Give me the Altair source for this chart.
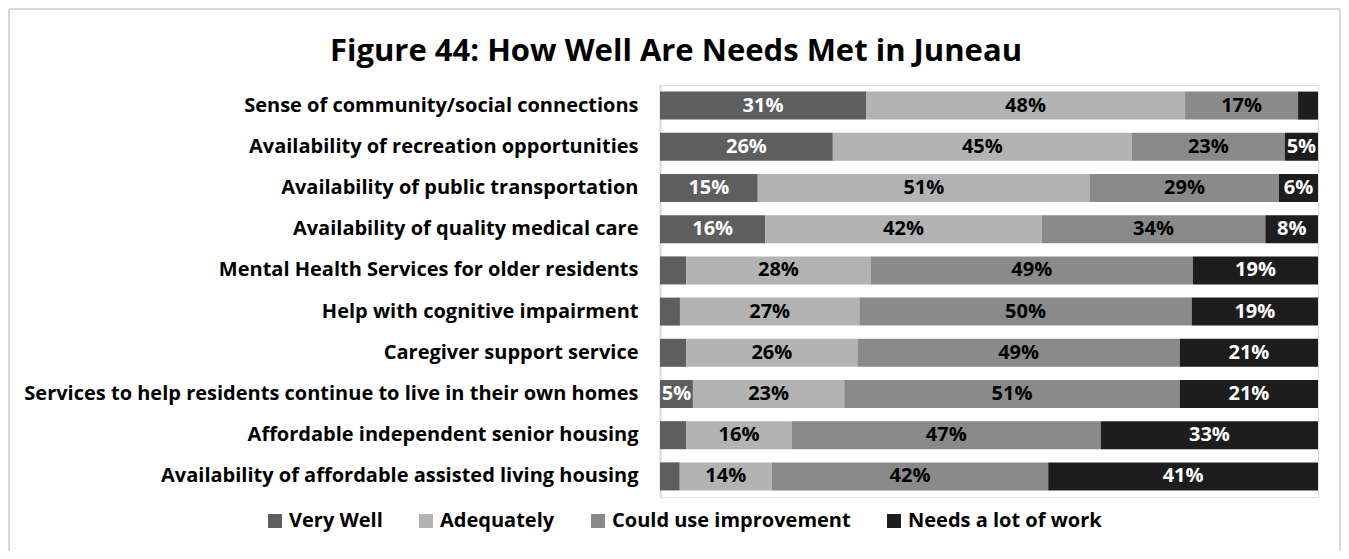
import altair as alt
import pandas as pd

categories = [
    "Sense of community/social connections",
    "Availability of recreation opportunities",
    "Availability of public transportation",
    "Availability of quality medical care",
    "Mental Health Services for older residents",
    "Help with cognitive impairment",
    "Caregiver support service",
    "Services to help residents continue to live in their own homes",
    "Affordable independent senior housing",
    "Availability of affordable assisted living housing",
]
very_well = [31, 26, 15, 16, 4, 3, 4, 5, 4, 3]
adequately = [48, 45, 51, 42, 28, 27, 26, 23, 16, 14]
could_improve = [17, 23, 29, 34, 49, 50, 49, 51, 47, 42]
needs_work = [3, 5, 6, 8, 19, 19, 21, 21, 33, 41]

series = ["Very Well", "Adequately", "Could use improvement", "Needs a lot of work"]
colors = ["#5e5e5e", "#b3b3b3", "#8a8a8a", "#1d1d1d"]
label_colors = ["white", "black", "black", "white"]
title_text = "Figure 44: How Well Are Needs Met in Juneau"

rows = []
for i, cat in enumerate(categories):
    for j, vals in enumerate([very_well, adequately, could_improve, needs_work]):
        v = vals[i]
        rows.append({
            "category": cat,
            "series": series[j],
            "value": v,
            "order": j,
            "label": f"{v}%" if v >= 5 else "",
            "labelColor": label_colors[j],
        })
df = pd.DataFrame(rows)

FONT = "Open Sans"

base = alt.Chart(df)

ycat = alt.Y(
    "category:N",
    sort=categories,
    scale=alt.Scale(paddingInner=0.32, paddingOuter=0.16),
    axis=alt.Axis(
        title=None,
        labelFont=FONT,
        labelFontSize=20,
        labelFontWeight="bold",
        labelColor="black",
        labelPadding=22,
        labelLimit=0,
        ticks=False,
        domainColor="#d9d9d9",
        domainWidth=2,
    ),
)

bars = base.mark_bar().encode(
    x=alt.X("value:Q", stack="normalize", axis=None,
            scale=alt.Scale(domain=[0, 1], nice=False)),
    y=ycat,
    color=alt.Color(
        "series:N",
        sort=series,
        scale=alt.Scale(domain=series, range=colors),
        legend=alt.Legend(
            title=None,
            orient="none",
            direction="horizontal",
            legendX=-395,
            legendY=426,
            symbolType="square",
            symbolSize=196,
            symbolStrokeWidth=0,
            labelFont=FONT,
            labelFontSize=20,
            labelFontWeight="bold",
            labelColor="black",
            labelOffset=4,
            columnPadding=33,
            labelLimit=0,
        ),
    ),
    order=alt.Order("order:Q"),
)

text = base.transform_stack(
    stack="value",
    groupby=["category"],
    as_=["v0", "v1"],
    offset="normalize",
    sort=[alt.SortField("order")],
).transform_calculate(
    mid="(datum.v0 + datum.v1) / 2"
).mark_text(
    font=FONT, fontSize=20, fontWeight="bold"
).encode(
    x=alt.X("mid:Q", scale=alt.Scale(domain=[0, 1], nice=False), axis=None),
    y=ycat,
    text="label:N",
    color=alt.Color("labelColor:N", scale=None, legend=None),
)

title = alt.Chart(pd.DataFrame({"t": [title_text]})).mark_text(
    font=FONT, fontSize=31, fontWeight="bold", color="black",
    align="center", baseline="middle",
).encode(text="t:N", x=alt.value(16), y=alt.value(-33))

frame_df = pd.DataFrame({"a": [0]})
frame_style = dict(color="#d9d9d9", strokeWidth=2)
left_line = alt.Chart(frame_df).mark_rule(**frame_style).encode(
    x=alt.value(-651), x2=alt.value(-651), y=alt.value(-76), y2=alt.value(470))
top_line = alt.Chart(frame_df).mark_rule(**frame_style).encode(
    x=alt.value(-651), x2=alt.value(680), y=alt.value(-76), y2=alt.value(-76))
right_line = alt.Chart(frame_df).mark_rule(**frame_style).encode(
    x=alt.value(680), x2=alt.value(680), y=alt.value(-76), y2=alt.value(470))

chart = alt.layer(
    left_line, top_line, right_line, title, bars, text
).resolve_scale(color="independent").properties(
    width=658,
    height=412,
    padding={"left": 652, "top": 77, "right": 23, "bottom": 54},
    autosize=alt.AutoSizeParams(type="none"),
).configure_view(stroke=None).configure(background="white")

chart.save("out.html", embed_options={"renderer": "svg", "actions": False})
